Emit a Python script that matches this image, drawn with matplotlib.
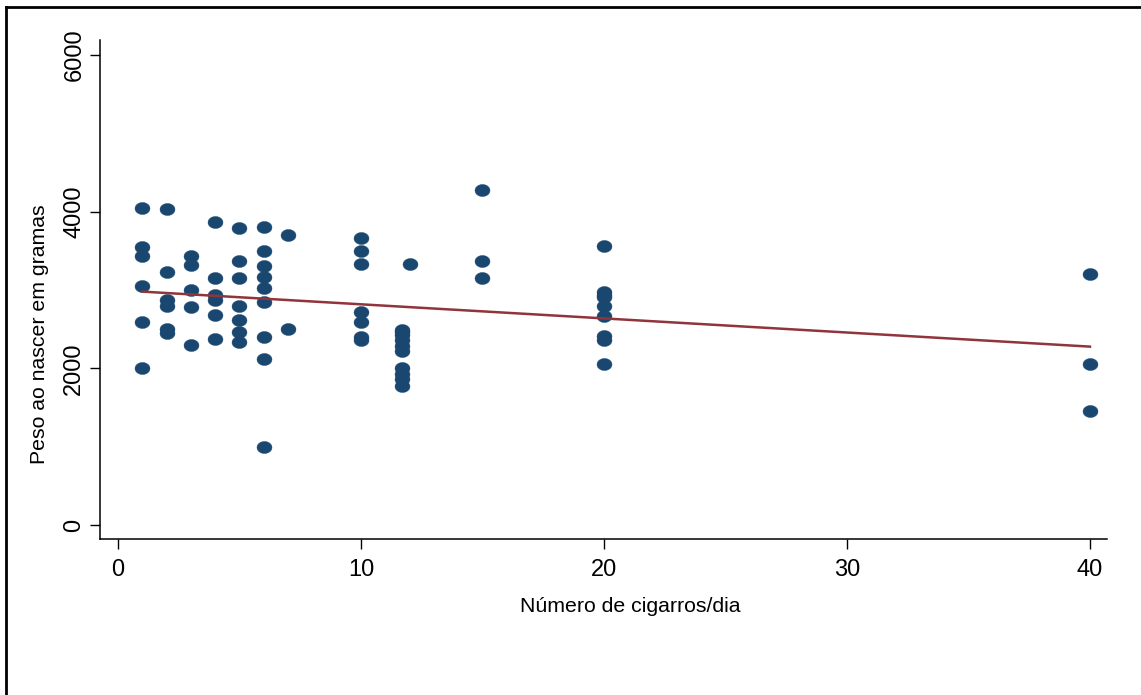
import numpy as np
import matplotlib
matplotlib.use("Agg")
import matplotlib.pyplot as plt
from matplotlib.path import Path
from matplotlib.lines import Line2D

plt.rcParams['font.family'] = ['Liberation Sans', 'DejaVu Sans']

# cigarettes per day and birth weight (g), grouped by smoking level
cig_1 = [1] * 6
peso_1 = [4043, 3553, 3434, 3055, 2596, 2000]
cig_2 = [2] * 6
peso_2 = [4030, 3234, 2873, 2798, 2500, 2445]
cig_3 = [3] * 5
peso_3 = [3436, 3317, 3000, 2787, 2298]
cig_4 = [4] * 6
peso_4 = [3864, 3149, 2934, 2870, 2681, 2371]
cig_5 = [5] * 7
peso_5 = [3796, 3374, 3149, 2800, 2617, 2468, 2340]
cig_6 = [6] * 9
peso_6 = [3809, 3502, 3311, 3162, 3030, 2843, 2396, 2115, 1000]
cig_7 = [7] * 2
peso_7 = [3702, 2502]
cig_10 = [10] * 7
peso_10 = [3668, 3498, 3332, 2723, 2588, 2404, 2362]
cig_11 = [11.7] * 10
peso_11 = [2490, 2460, 2430, 2360, 2290, 2225, 2000, 1930, 1860, 1777]
cig_12 = [12]
peso_12 = [3332]
cig_15 = [15] * 3
peso_15 = [4277, 3374, 3157]
cig_20 = [20] * 9
peso_20 = [3562, 2980, 2940, 2905, 2796, 2668, 2415, 2362, 2051]
cig_40 = [40] * 3
peso_40 = [3204, 2051, 1459]

x_ticks = [0, 10, 20, 30, 40]
y_ticks = [0, 2000, 4000, 6000]

cigarros = np.array(cig_1 + cig_2 + cig_3 + cig_4 + cig_5 + cig_6 + cig_7
                    + cig_10 + cig_11 + cig_12 + cig_15 + cig_20 + cig_40, dtype=float)
peso = np.array(peso_1 + peso_2 + peso_3 + peso_4 + peso_5 + peso_6 + peso_7
                + peso_10 + peso_11 + peso_12 + peso_15 + peso_20 + peso_40, dtype=float)

# linear fit over the observed range
b, a = np.polyfit(cigarros, peso, 1)
xfit = np.array([cigarros.min(), cigarros.max()])
yfit = a + b * xfit

# slightly wide ellipse marker
t = np.linspace(0, 2 * np.pi, 60)
ellipse = Path(np.column_stack([np.cos(t), 0.8 * np.sin(t)]), closed=True)

fig = plt.figure(figsize=(11.41, 6.95), dpi=100)
ax = fig.add_axes([0.0876, 0.2245, 0.8826, 0.7180])

ax.plot(cigarros, peso, linestyle='none', marker=ellipse, markersize=10.8,
        markerfacecolor='#1a476f', markeredgecolor='#1a476f', markeredgewidth=0.3, zorder=2)
ax.plot(xfit, yfit, color='#90353b', linewidth=1.8, zorder=3)

ax.set_xlim(-0.74, 40.7)
ax.set_ylim(-179, 6192)
ax.set_xticks(x_ticks)
ax.set_yticks(y_ticks)

for side in ['top', 'right']:
    ax.spines[side].set_visible(False)
for side in ['left', 'bottom']:
    ax.spines[side].set_linewidth(1.1)
    ax.spines[side].set_color('black')

ax.tick_params(axis='both', length=7.5, width=1.0, color='black', labelsize=17)
ax.tick_params(axis='x', pad=7)
ax.tick_params(axis='y', pad=3)
plt.setp(ax.get_yticklabels(), rotation=90, va='center')

ax.set_xlabel('Número de cigarros/dia', fontsize=15.3)
ax.set_ylabel('Peso ao nascer em gramas', fontsize=15.3)
ax.xaxis.set_label_coords(0.527, -0.116)
ax.yaxis.set_label_coords(-0.051, 0.411)

# outer frame (top and left edges)
fig.add_artist(Line2D([0.00526, 1.0], [0.9899, 0.9899], transform=fig.transFigure,
                      color='black', linewidth=2.0))
fig.add_artist(Line2D([0.00526, 0.00526], [0.0, 0.9899], transform=fig.transFigure,
                      color='black', linewidth=2.0))

fig.savefig('out.png', dpi=100)
